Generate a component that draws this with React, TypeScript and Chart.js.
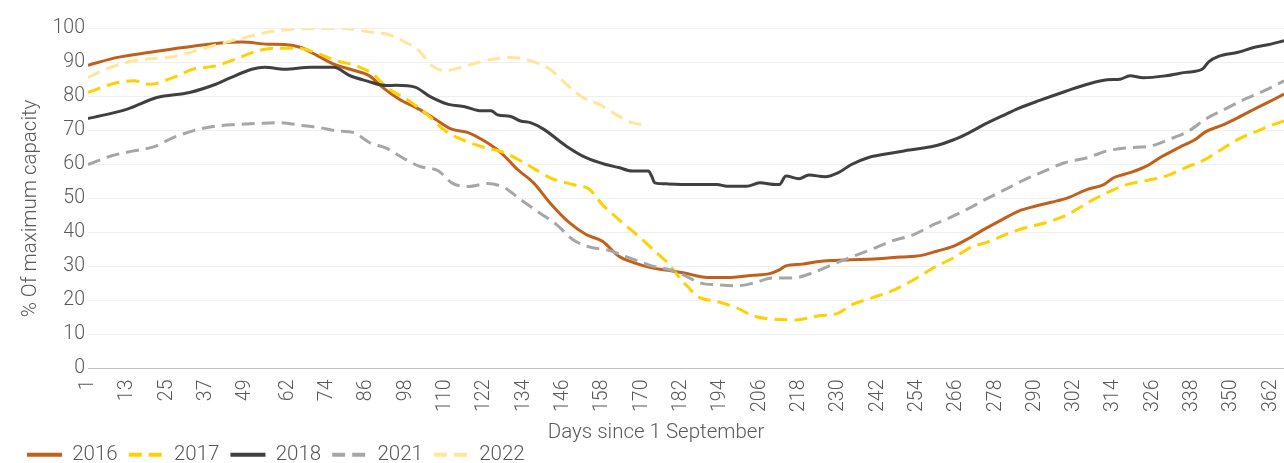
import React, { useEffect, useRef } from "react";
import { Chart, registerables } from "chart.js";

Chart.register(...registerables);

// Days since 1 September (x) and % of maximum capacity (y)
const series2016: [number, number][] = [
  [1, 89.2], [10, 91.5], [20, 93], [30, 94.4], [40, 95.6], [48, 96], [56, 95.4], [61, 95.3], [66, 94.4],
  [71, 92], [76, 89.5], [81, 88], [87, 86], [91, 82.6], [96, 79.2], [102, 76.3], [107, 73.3], [112, 70.4],
  [117, 69.4], [122, 66.9], [127, 63.5], [132, 58.6], [137, 54.6], [142, 48.7], [148, 42.8], [153, 39.4],
  [158, 37.4], [163, 33], [168, 31], [173, 29.6], [178, 28.9], [183, 28.1], [190, 26.8], [197, 26.8],
  [204, 27.4], [209, 27.9], [212, 29], [214, 30.2], [219, 30.7], [224, 31.5], [229, 31.8], [234, 32],
  [241, 32.2], [249, 32.8], [255, 33.2], [260, 34.5], [265, 35.9], [270, 38.4], [275, 41.2], [280, 43.8],
  [285, 46.3], [290, 47.7], [295, 48.9], [300, 50.2], [306, 52.7], [311, 54.1], [314, 56.1], [319, 57.6],
  [324, 59.5], [329, 62.5], [334, 65], [339, 67.4], [342, 69.6], [347, 71.5], [352, 73.8], [358, 76.8],
  [363, 79.2], [366, 80.7],
];

const series2017: [number, number][] = [
  [1, 81.2], [10, 84.1], [15, 84.6], [20, 83.6], [27, 85.6], [33, 88], [40, 89], [46, 91], [53, 93.5],
  [59, 94.2], [65, 94.2], [71, 92.7], [77, 90.5], [83, 89], [88, 86.6], [92, 82.8], [99, 78.7], [105, 74.3],
  [110, 69.9], [115, 67.4], [122, 65], [128, 63.5], [135, 60], [142, 56.1], [149, 54.1], [154, 52.7],
  [158, 48.2], [163, 43.8], [169, 38.9], [174, 34.5], [178, 31], [182, 26.1], [184, 24.1], [187, 21.2],
  [193, 19.7], [199, 17.8], [204, 15.5], [210, 14.5], [217, 14.3], [224, 15.5], [230, 16.3], [234, 18.7],
  [240, 20.7], [246, 22.7], [253, 26.1], [259, 29.6], [265, 32.5], [271, 35.9], [275, 37], [281, 39.4],
  [287, 41.4], [293, 42.8], [300, 45.3], [306, 48.7], [312, 51.7], [318, 54.1], [323, 55.1], [330, 56.6],
  [336, 59.1], [342, 61.5], [347, 64.5], [352, 67.4], [358, 69.9], [363, 71.8], [366, 72.8],
];

const series2018: [number, number][] = [
  [1, 73.5], [13, 76.3], [22, 79.7], [32, 81.2], [40, 83.6], [44, 85.3], [51, 88], [55, 88.6], [61, 88],
  [69, 88.6], [76, 88.6], [81, 86.1], [86, 84.6], [92, 83.2], [95, 83.3], [101, 82.7], [105, 80.2],
  [111, 77.7], [116, 77], [121, 75.8], [124, 75.8], [126, 74.6], [130, 74.1], [133, 72.8], [136, 72.3],
  [140, 70.4], [147, 65.4], [153, 62], [159, 60], [163, 59.1], [167, 58.1], [172, 58.1], [173, 56.6],
  [174, 54.6], [178, 54.3], [183, 54.1], [193, 54.1], [196, 53.6], [202, 53.6], [206, 54.6], [211, 54.1],
  [212, 54.1], [214, 56.6], [218, 55.8], [221, 56.9], [226, 56.4], [230, 57.6], [234, 60], [239, 62],
  [244, 63], [250, 64], [255, 64.7], [260, 65.6], [265, 67.2], [270, 69.4], [275, 72], [280, 74.3],
  [285, 76.5], [291, 78.7], [299, 81.4], [306, 83.6], [312, 84.9], [316, 85.1], [319, 86.1], [323, 85.5],
  [330, 86.1], [336, 87.1], [341, 88], [343, 90.2], [346, 91.8], [352, 93], [357, 94.5], [362, 95.4],
  [366, 96.4],
];

const series2021: [number, number][] = [
  [1, 60], [8, 62.5], [15, 64], [21, 65.2], [27, 67.9], [33, 69.9], [40, 71.3], [47, 71.8], [53, 72.1],
  [60, 72.3], [66, 71.5], [72, 70.8], [77, 69.9], [82, 69.4], [87, 66.4], [92, 64.8], [97, 62], [102, 59.5],
  [108, 58.1], [112, 54.6], [117, 53.5], [123, 54.4], [128, 53.2], [133, 49.7], [138, 46.3], [144, 42.3],
  [149, 37.9], [155, 35.5], [159, 35], [165, 33], [173, 30.2], [179, 28.9], [183, 27.4], [188, 25.1],
  [193, 24.6], [199, 24.3], [204, 25.1], [210, 26.6], [216, 26.6], [222, 28.1], [228, 30.5], [234, 32.8],
  [240, 35], [246, 37.4], [253, 39.4], [259, 42.3], [265, 44.8], [271, 47.7], [275, 49.8], [281, 52.7],
  [287, 55.6], [293, 58.1], [299, 60.5], [306, 62], [312, 64], [318, 64.9], [325, 65.4], [331, 67.4],
  [337, 69.9], [342, 73.3], [348, 76.3], [354, 79.2], [360, 81.7], [366, 84.6],
];

const series2022: [number, number][] = [
  [1, 85.6], [8, 88.6], [15, 90.5], [21, 91.2], [27, 91.7], [34, 93.5], [42, 95.7], [49, 97.4], [57, 99.1],
  [65, 99.9], [72, 100], [79, 100], [84, 99.4], [89, 98.7], [92, 98.4], [98, 95.9], [102, 93.5], [106, 89],
  [110, 87.6], [115, 88.6], [120, 90], [125, 91], [130, 91.5], [136, 90.5], [142, 88], [147, 83.6],
  [152, 79.7], [157, 77.7], [162, 74.8], [167, 72.3], [172, 71.5],
];

const seriesNames = ["2016", "2017", "2018", "2021", "2022"];
const xTickDays = [1, 13, 25, 37, 49, 62, 74, 86, 98, 110, 122, 134, 146, 158, 170, 182, 194, 206, 218, 230,
  242, 254, 266, 278, 290, 302, 314, 326, 338, 350, 362];
const yTickValues = [0, 10, 20, 30, 40, 50, 60, 70, 80, 90, 100];

const TEXT = "#595959";
const FONT = "Roboto";

export default function App() {
  const ref = useRef<HTMLCanvasElement | null>(null);

  useEffect(() => {
    if (!ref.current) return;
    const all = [series2016, series2017, series2018, series2021, series2022];
    const colors = ["#C0601A", "#FFD100", "#404040", "#A6A6A6", "#FFE699"];
    const dashed = [false, true, false, true, true];
    const toPts = (s: [number, number][]) => s.map(([x, y]) => ({ x, y }));

    const chart = new Chart(ref.current, {
      type: "line",
      data: {
        datasets: all.map((s, i) => ({
          label: seriesNames[i],
          data: toPts(s),
          borderColor: colors[i],
          backgroundColor: colors[i],
          borderWidth: 3,
          borderDash: dashed[i] ? [13, 7] : [],
          pointRadius: 0,
          pointHoverRadius: 0,
          cubicInterpolationMode: "monotone" as const,
          fill: false,
          order: all.length - i,
        })),
      },
      options: {
        animation: false,
        responsive: false,
        devicePixelRatio: 1,
        layout: { padding: { left: 16, right: 0, top: 28.5, bottom: 0 } },
        scales: {
          x: {
            type: "linear",
            min: 1,
            max: 366,
            afterBuildTicks: (scale: any) => {
              scale.ticks = xTickDays.map((v) => ({ value: v }));
            },
            afterFit: (scale: any) => {
              scale.height = 65;
              scale.paddingLeft = 0;
              scale.paddingRight = 0;
            },
            grid: { display: false, drawTicks: false },
            border: { display: true, color: "#BFBFBF", width: 1 },
            ticks: {
              autoSkip: false,
              minRotation: 90,
              maxRotation: 90,
              padding: 11,
              color: TEXT,
              font: { family: FONT, size: 19.5, weight: 300 },
              callback: (v: any) => String(v),
            },
            title: {
              display: true,
              text: "Days since 1 September" + " ".repeat(12),
              color: TEXT,
              font: { family: FONT, size: 20.5, weight: 300 },
              padding: { top: 0, bottom: -12 },
            },
          },
          y: {
            min: 0,
            max: 100,
            afterBuildTicks: (scale: any) => {
              scale.ticks = yTickValues.map((v) => ({ value: v }));
            },
            afterFit: (scale: any) => {
              scale.width = 72;
            },
            grid: { color: "#F0F0F0", drawTicks: false, lineWidth: 1 },
            border: { display: false },
            ticks: {
              padding: 3,
              color: TEXT,
              font: { family: FONT, size: 19.5, weight: 300 },
            },
            title: {
              display: true,
              text: "% Of maximum capacity" + " ".repeat(4),
              color: TEXT,
              font: { family: FONT, size: 20.5, weight: 300 },
              padding: { top: 3, bottom: 0 },
            },
          },
        },
        plugins: {
          tooltip: { enabled: false },
          legend: {
            position: "bottom",
            align: "start",
            labels: {
              usePointStyle: true,
              pointStyle: "line",
              pointStyleWidth: 35,
              padding: 11,
              color: TEXT,
              font: { family: FONT, size: 20.5, weight: 300 },
              sort: (a: any, b: any) => a.datasetIndex - b.datasetIndex,
              generateLabels: (c: any) => {
                const items = (Chart.defaults.plugins.legend.labels.generateLabels as any)(c);
                return items.map((it: any) => ({
                  ...it,
                  lineWidth: 4,
                  lineDash: dashed[it.datasetIndex] ? [13, 7] : [],
                  pointStyle: "line",
                  fontColor: TEXT,
                }));
              },
            },
          },
        },
      },
    });
    return () => chart.destroy();
  }, []);

  return (
    <div style={{ position: "fixed", left: 0, top: 0, width: 1284, height: 463, overflow: "hidden", background: "#fff" }}>
      <canvas ref={ref} width={1284} height={475} style={{ display: "block" }} />
    </div>
  );
}
